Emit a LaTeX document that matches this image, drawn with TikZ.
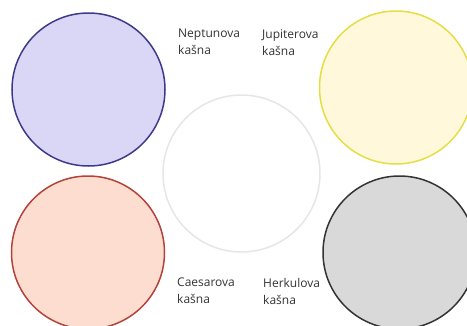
\documentclass[tikz,border=0pt]{standalone}
\usepackage{fontspec}
\setmainfont{Open Sans}
\definecolor{neptunfill}{HTML}{D9D6F6}
\definecolor{neptundraw}{HTML}{3E3A8A}
\definecolor{jupiterfill}{HTML}{FFF8DA}
\definecolor{jupiterdraw}{HTML}{E6DD45}
\definecolor{caesarfill}{HTML}{FDDDD0}
\definecolor{caesardraw}{HTML}{B3423A}
\definecolor{herkulfill}{HTML}{D9D9D9}
\definecolor{herkuldraw}{HTML}{333333}
\definecolor{stredfill}{HTML}{FFFFFF}
\definecolor{streddraw}{HTML}{E6E6E6}
\definecolor{popis}{HTML}{333333}
\tikzset{
  kasna/.style={circle, inner sep=0pt, minimum size=153pt, line width=1.5pt},
  napis/.style={align=left, anchor=north west, inner sep=0pt, text=popis,
    font=\fontsize{12}{17}\selectfont}
}
\begin{document}
\begin{tikzpicture}[x=1pt,y=-1pt]

\useasboundingbox (0,0) rectangle (467,325);
\clip (0,0) rectangle (467,325);

% stredny kruh
\node[kasna, minimum size=157pt, fill=stredfill, draw=streddraw] (stred) at (241.5,173.5) {};

% kasne
\node[kasna, fill=neptunfill, draw=neptundraw] (neptun) at (88.5,89.5) {};
\node[kasna, fill=jupiterfill, draw=jupiterdraw] (jupiter) at (396,87.5) {};
\node[kasna, fill=caesarfill, draw=caesardraw] (caesar) at (88,252.5) {};
\node[kasna, fill=herkulfill, draw=herkuldraw] (herkul) at (399.5,252.5) {};

% popisy
\node[napis] (neptunpopis) at (178,29) {Neptunova\\kašna};
\node[napis] (jupiterpopis) at (262,29) {Jupiterova\\kašna};
\node[napis] (caesarpopis) at (177,278) {Caesarova\\kašna};
\node[napis] (herkulpopis) at (263,278) {Herkulova\\kašna};

\end{tikzpicture}
\end{document}
